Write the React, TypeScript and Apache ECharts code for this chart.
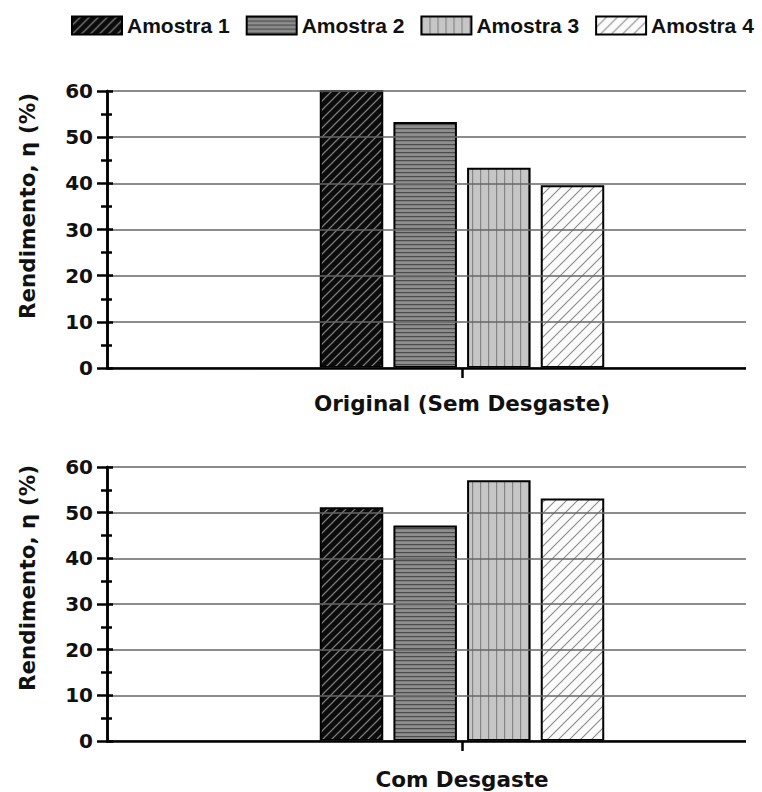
import React, { useEffect, useRef } from "react";
import * as echarts from "echarts";

const seriesNames = ["Amostra 1", "Amostra 2", "Amostra 3", "Amostra 4"];
const topCategories = ["Original (Sem Desgaste)"];
const bottomCategories = ["Com Desgaste"];
const originalValues = [60.3, 53.3, 43.4, 39.6];
const desgasteValues = [51.2, 47.2, 57.1, 53.1];
const yMin = 0;
const yMax = 60;
const yInterval = 10;
const yTitle = "Rendimento, η (%)";

const AXIS_FONT = "'DejaVu Sans', 'Liberation Sans', Arial, sans-serif";
const LEGEND_FONT = "'Liberation Sans', Arial, sans-serif";

const CHART_W = 830;
const PLOT_LEFT = 107;
const PLOT_RIGHT = 817;

function makePattern(kind: number): any {
  const c = document.createElement("canvas");
  const ctx = c.getContext("2d")!;
  if (kind === 0 || kind === 3) {
    const s = kind === 0 ? 9 : 11;
    c.width = s;
    c.height = s;
    ctx.fillStyle = kind === 0 ? "#0b0b0b" : "#fbfbfb";
    ctx.fillRect(0, 0, s, s);
    ctx.strokeStyle = kind === 0 ? "#7a7a7a" : "#8a8a8a";
    ctx.lineWidth = kind === 0 ? 1.3 : 1.1;
    ctx.beginPath();
    ctx.moveTo(-1, s + 1);
    ctx.lineTo(s + 1, -1);
    ctx.moveTo(-2, 2);
    ctx.lineTo(2, -2);
    ctx.moveTo(s - 2, s + 2);
    ctx.lineTo(s + 2, s - 2);
    ctx.stroke();
  } else if (kind === 1) {
    c.width = 4;
    c.height = 4;
    ctx.fillStyle = "#8e8e8e";
    ctx.fillRect(0, 0, 4, 4);
    ctx.fillStyle = "#4c4c4c";
    ctx.fillRect(0, 0, 4, 1.2);
  } else {
    c.width = 8;
    c.height = 4;
    ctx.fillStyle = "#c6c6c6";
    ctx.fillRect(0, 0, 8, 4);
    ctx.fillStyle = "#858585";
    ctx.fillRect(0, 0, 1.2, 4);
  }
  return { image: c, repeat: "repeat" };
}

export default function App() {
  const ref = useRef<HTMLDivElement>(null);

  useEffect(() => {
    if (!ref.current) return;
    const chart = echarts.init(ref.current, undefined, { renderer: "svg" });
    const patterns = [0, 1, 2, 3].map((k) => makePattern(k));
    const plotWidth = PLOT_RIGHT - PLOT_LEFT;

    const grids = [
      { left: PLOT_LEFT, right: CHART_W - PLOT_RIGHT, top: 91, height: 277 },
      { left: PLOT_LEFT, right: CHART_W - PLOT_RIGHT, top: 467, height: 274 },
    ];

    const yAxisOuter = (gridIndex: number) => ({
      gridIndex,
      type: "value",
      position: "left",
      min: yMin,
      max: yMax,
      interval: yInterval,
      axisLine: { show: true, lineStyle: { color: "#000", width: 2.5 } },
      axisTick: { show: true, inside: false, length: 10, lineStyle: { color: "#000", width: 2.5 } },
      minorTick: { show: true, splitNumber: 2, length: 6, lineStyle: { color: "#000", width: 2.5 } },
      axisLabel: {
        margin: 14,
        fontFamily: AXIS_FONT,
        fontSize: 20,
        fontWeight: "bold",
        color: "#111",
      },
      splitLine: { show: true, lineStyle: { color: "#666", width: 1.5 } },
      z: 5,
    });
    // Second axis, drawn at the left edge, whose ticks point into the plot.
    const yAxisInner = (gridIndex: number) => ({
      gridIndex,
      type: "value",
      position: "right",
      offset: -plotWidth,
      min: yMin,
      max: yMax,
      interval: yInterval,
      axisLine: { show: true, lineStyle: { color: "#000", width: 2.5 } },
      axisTick: { show: true, inside: false, length: 6, lineStyle: { color: "#000", width: 2.5 } },
      minorTick: { show: true, splitNumber: 2, length: 5, lineStyle: { color: "#000", width: 2.5 } },
      axisLabel: { show: false },
      splitLine: { show: false },
      z: 5,
    });

    const xAxis = (gridIndex: number, data: string[], margin: number) => ({
      gridIndex,
      type: "category",
      data,
      axisLine: { show: true, lineStyle: { color: "#000", width: 2.5 } },
      axisTick: { show: true, alignWithLabel: true, length: 10, lineStyle: { color: "#000", width: 2.5 } },
      axisLabel: {
        margin,
        fontFamily: AXIS_FONT,
        fontSize: 21.5,
        fontWeight: "bold",
        color: "#111",
      },
      splitLine: { show: false },
      z: 5,
    });

    const series: any[] = [];
    seriesNames.forEach((name, i) => {
      series.push({
        name,
        type: "bar",
        xAxisIndex: 0,
        yAxisIndex: 0,
        data: [originalValues[i]],
        barWidth: 63.5,
        barGap: "16%",
        itemStyle: { color: patterns[i], borderColor: "#000", borderWidth: 2 },
        z: 3,
      });
    });
    seriesNames.forEach((name, i) => {
      series.push({
        name,
        type: "bar",
        xAxisIndex: 1,
        yAxisIndex: 2,
        data: [desgasteValues[i]],
        barWidth: 63.5,
        barGap: "16%",
        itemStyle: { color: patterns[i], borderColor: "#000", borderWidth: 2 },
        z: 3,
      });
    });

    chart.setOption({
      animation: false,
      backgroundColor: "#fff",
      legend: {
        data: seriesNames,
        left: 71,
        top: 15,
        padding: 0,
        icon: "rect",
        itemWidth: 50,
        itemHeight: 18,
        itemGap: 16,
        selectedMode: false,
        itemStyle: { borderColor: "#000", borderWidth: 2 },
        textStyle: {
          fontFamily: LEGEND_FONT,
          fontSize: 21,
          fontWeight: "bold",
          color: "#111",
        },
      },
      grid: grids,
      xAxis: [xAxis(0, topCategories, 24), xAxis(1, bottomCategories, 27)],
      yAxis: [yAxisOuter(0), yAxisInner(0), yAxisOuter(1), yAxisInner(1)],
      series,
      graphic: [
        { type: "rect", z: 100, shape: { x: 746, y: 80, width: 90, height: 310 }, style: { fill: "#fff" } },
        { type: "rect", z: 100, shape: { x: 746, y: 455, width: 90, height: 300 }, style: { fill: "#fff" } },
        {
          type: "text",
          z: 100,
          x: 27,
          y: 206,
          rotation: Math.PI / 2,
          style: {
            text: yTitle,
            font: `bold 21.5px ${AXIS_FONT}`,
            fill: "#111",
            textAlign: "center",
            textVerticalAlign: "middle",
          },
        },
        {
          type: "text",
          z: 100,
          x: 27,
          y: 578,
          rotation: Math.PI / 2,
          style: {
            text: yTitle,
            font: `bold 21.5px ${AXIS_FONT}`,
            fill: "#111",
            textAlign: "center",
            textVerticalAlign: "middle",
          },
        },
      ],
    });

    return () => chart.dispose();
  }, []);

  return (
    <div
      style={{
        position: "fixed",
        left: 0,
        top: 0,
        width: 762,
        height: 792,
        overflow: "hidden",
        background: "#fff",
      }}
    >
      <div ref={ref} style={{ width: CHART_W, height: 792 }} />
    </div>
  );
}
